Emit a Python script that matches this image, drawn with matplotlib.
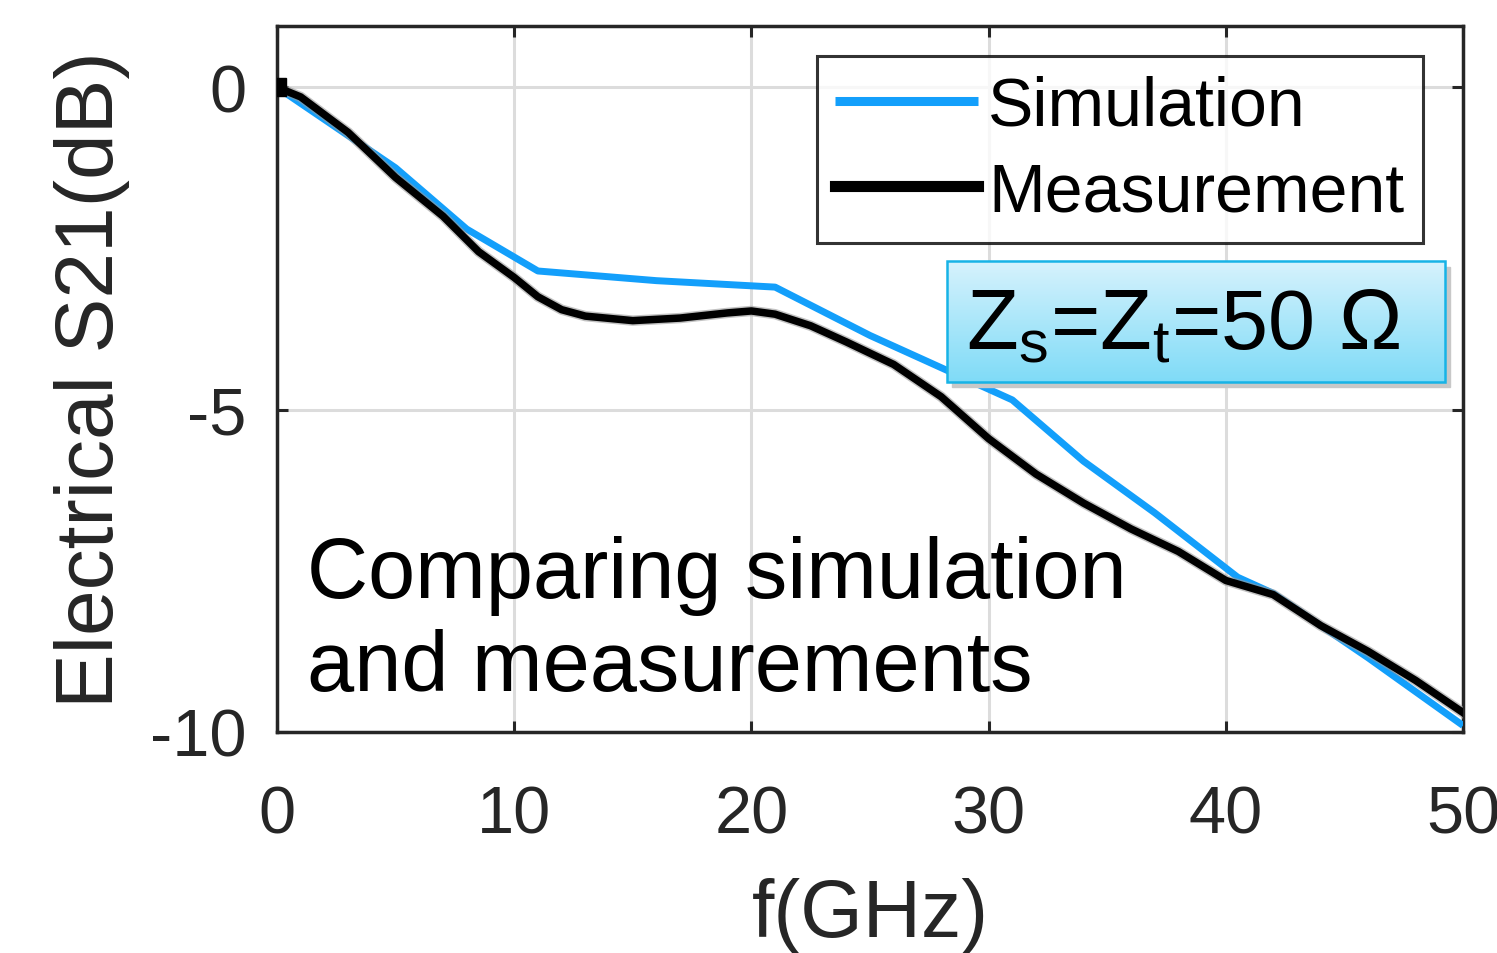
import numpy as np
import matplotlib
matplotlib.use("Agg")
import matplotlib.pyplot as plt
from matplotlib.patches import Rectangle

plt.rcParams['font.family'] = ['Liberation Sans', 'DejaVu Sans']
plt.rcParams['mathtext.default'] = 'regular'
plt.rcParams['axes.unicode_minus'] = False

# data
sim_f = [0, 2, 5, 8, 11, 16, 21, 25, 28, 31, 34, 37, 40.5, 42, 46, 50]
sim_s21 = [0, -0.5, -1.25, -2.2, -2.85, -3.0, -3.1, -3.85, -4.35, -4.85,
           -5.8, -6.6, -7.6, -7.85, -8.85, -9.9]

meas_f = [0, 1, 3, 5, 7, 8.5, 10, 11, 12, 13, 15, 17, 19, 20, 21, 22.5, 24,
          26, 28, 30, 32, 34, 36, 38, 40, 42, 44, 46, 48, 50]
meas_s21 = [0, -0.15, -0.7, -1.4, -2.0, -2.55, -2.95, -3.25, -3.45, -3.55,
            -3.62, -3.58, -3.5, -3.47, -3.52, -3.7, -3.95, -4.3, -4.8, -5.45,
            -6.0, -6.45, -6.85, -7.2, -7.65, -7.87, -8.35, -8.75, -9.2, -9.7]

x_ticks = [0, 10, 20, 30, 40, 50]
y_ticks = [-10, -5, 0]

fig = plt.figure(figsize=(14.97, 9.54), dpi=100)
ax = fig.add_axes([0.185, 0.2317, 0.7923, 0.74])

ax.plot(sim_f, sim_s21, color='#139ffb', lw=5, label='Simulation',
        solid_capstyle='butt', zorder=3)
ax.plot(meas_f, meas_s21, color='#9a9a9a', lw=7.5, alpha=0.6, zorder=3.5)
ax.plot(meas_f, meas_s21, color='black', lw=5.4, label='Measurement',
        marker='s', markevery=[0], markersize=13, zorder=4)

ax.set_xlim(0, 50)
ax.set_ylim(-10, 0.95)
ax.set_xticks(x_ticks)
ax.set_yticks(y_ticks)
ax.grid(True, color='#dcdcdc', lw=2.2)
ax.set_axisbelow(True)
ax.tick_params(direction='in', length=8, width=2.2, colors='#262626',
               labelsize=48, top=True, right=True)
ax.tick_params(axis='x', pad=38)
ax.tick_params(axis='y', pad=22)
for s in ax.spines.values():
    s.set_linewidth(2.5)
    s.set_color('#262626')

ax.set_xlabel('f(GHz)', fontsize=58, color='#262626', labelpad=22)
ax.set_ylabel('Electrical S21(dB)', fontsize=59, color='#262626', labelpad=14)

leg = ax.legend(loc='upper right', bbox_to_anchor=(0.966, 0.9575),
                fontsize=49, frameon=True, fancybox=False, handlelength=2.1,
                handletextpad=0.15, borderpad=0.27, labelspacing=0.32,
                borderaxespad=0)
leg.get_frame().set_edgecolor('black')
leg.get_frame().set_linewidth(2.2)
lw_leg = [6.5, 8]
for ln, w in zip(leg.get_lines(), lw_leg):
    ln.set_linewidth(w)
    ln.set_marker('')

# gradient box with impedance note
bx0, bx1, by0, by1 = 0.565, 0.985, 0.496, 0.667
ax.add_patch(Rectangle((bx0 + 0.004, by0 - 0.008), bx1 - bx0, by1 - by0,
                       transform=ax.transAxes, color='#c8c8c8', zorder=5,
                       clip_on=False))
grad = np.linspace(0, 1, 100).reshape(-1, 1)
top_c = np.array([0.84, 0.95, 0.99])
bot_c = np.array([0.50, 0.86, 0.97])
img = top_c * (1 - grad[..., None]) + bot_c * grad[..., None]
img = np.repeat(img, 2, axis=1)
ax.imshow(img, extent=(bx0, bx1, by0, by1), transform=ax.transAxes,
          aspect='auto', zorder=6, clip_on=False)
ax.add_patch(Rectangle((bx0, by0), bx1 - bx0, by1 - by0, transform=ax.transAxes,
                       fill=False, edgecolor='#17b3e6', lw=1.8, zorder=7,
                       clip_on=False))
ax.text(0.581, 0.575, r'Z$_{s}$=Z$_{t}$=50 Ω', transform=ax.transAxes,
        fontsize=61, va='center', ha='left', zorder=8)

ax.text(0.025, 0.06, 'Comparing simulation\nand measurements',
        transform=ax.transAxes, fontsize=61, va='baseline', ha='left',
        linespacing=1.2, zorder=8)

fig.savefig('out.png', dpi=100)
